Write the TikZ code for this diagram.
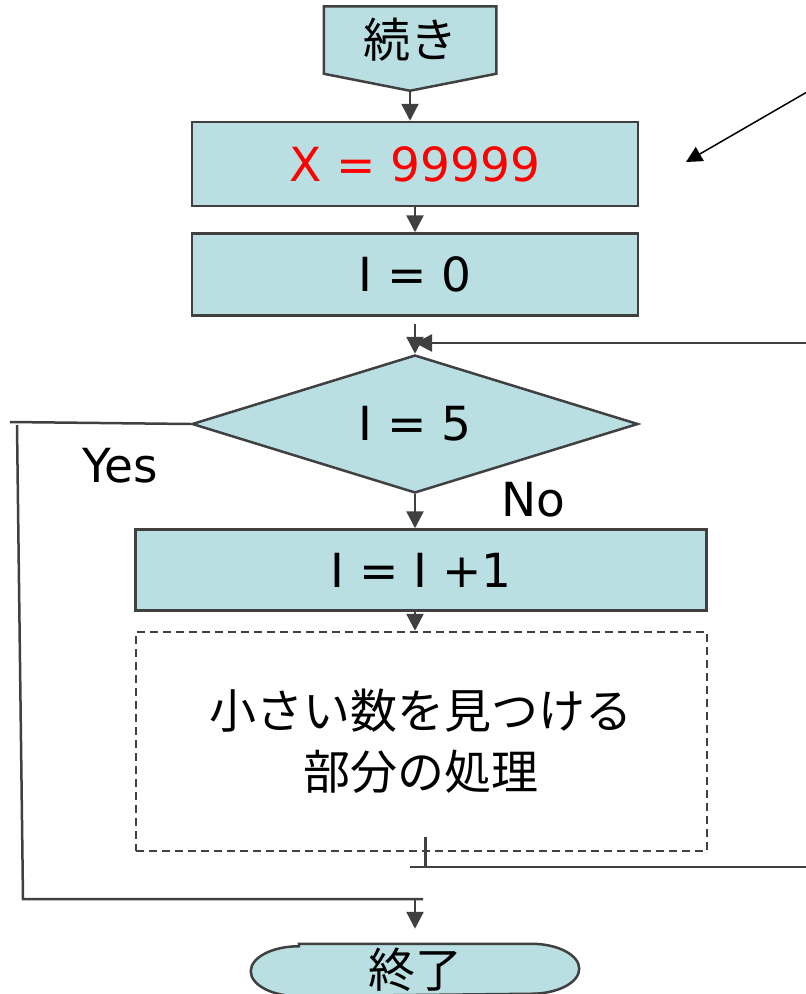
\documentclass[tikz,border=0pt]{standalone}
\usepackage{fontspec}
\setmainfont{DejaVu Sans}
\newfontfamily\jpfont{Noto Sans CJK JP}
\usepackage{tikz}
\usetikzlibrary{arrows.meta,positioning,shapes.geometric,backgrounds}
\definecolor{boxfill}{RGB}{185,223,227}
\definecolor{linegray}{RGB}{64,64,64}

\begin{document}
\begin{tikzpicture}[x=1pt,y=-1pt,>={Triangle[length=17pt,width=17pt]},line width=2.5pt]
  \tikzstyle{every node}=[inner sep=0pt,font=\fontsize{47}{56}\selectfont]
  \tikzstyle{flow}=[draw=linegray,line width=2.5pt]
  \tikzstyle{box}=[flow,fill=boxfill,minimum width=446pt,minimum height=84pt]
  \tikzstyle{jp}=[font=\fontsize{47}{61}\selectfont\jpfont]

  \useasboundingbox (0,0) rectangle (806,994);

  \node[jp,minimum width=170pt,minimum height=65pt] (cont) at (410,40) {\raisebox{-4pt}{続き}};
  \node[box,text=red] (xbox) at (415,164) {X = 99999};
  \node[box,minimum height=82pt] (ibox) [below=25pt of xbox] {I = 0};
  \node[diamond,aspect=3.4,flow,fill=boxfill,minimum width=446pt,minimum height=138pt] (cond) [below=37pt of ibox] {I = 5};
  \node[box,minimum width=571pt,minimum height=81pt] (incbox) [below=34pt of cond,xshift=6pt] {I = I +1};
  \node[jp,flow,line width=2pt,dash pattern=on 8pt off 5pt,minimum width=571pt,minimum height=219pt,align=center] (proc) [below=19pt of incbox] {小さい数を見つける\\部分の処理};
  \node[jp,minimum width=326pt,minimum height=50pt] (end) at (415,970) {終了};

  \node (yes) at (120,466) {Yes};
  \node (no) at (533,500) {No};

  \begin{scope}[on background layer]
    \draw[flow,fill=boxfill] (cont.north west) -- (cont.north east) -- (cont.south east)
      -- ([yshift=-17pt]cont.south) -- (cont.south west) -- cycle;
    \draw[flow,fill=boxfill] ([xshift=48pt]end.north west) -- ([xshift=-48pt]end.north east)
      arc[start angle=90,end angle=-90,x radius=48pt,y radius=25pt]
      -- ([xshift=48pt]end.south west)
      arc[start angle=270,end angle=90,x radius=48pt,y radius=25pt] -- cycle;
  \end{scope}

  % main flow
  \draw[flow,->] ([yshift=-17pt]cont.south) -- (cont.south |- xbox.north);
  \draw[flow,->] (xbox) -- (ibox);
  \draw[flow,->,shorten <=7pt] (ibox) -- (cond);
  \draw[flow,->] (cond.south) -- (cond.south |- incbox.north);
  \draw[flow,->] (incbox.south -| cond.south) -- (cond.south |- proc.north);

  % loop back
  \coordinate (backA) at (410,867);
  \coordinate (backB) at (806,867);
  \coordinate (backC) at (806,343);
  \draw[flow] ([xshift=4.5pt,yshift=15pt]proc.south) -- ([xshift=4.5pt,yshift=-16pt]proc.south);
  \draw[flow] (backA) -- (backB);
  \draw[flow,->] (backC) -- (backC -| cond.north);

  % yes branch
  \coordinate (yesA) at (10,422);
  \coordinate (yesB) at (17,425);
  \coordinate (yesC) at (23,899);
  \coordinate (yesD) at (423,899);
  \draw[flow] (cond.west) -- (yesA);
  \draw[flow] (yesB) -- (yesC) -- (yesD);
  \draw[flow,->,shorten >=15pt] (yesD -| end.north) -- (end.north);

  % note arrow
  \coordinate (noteA) at (807,92);
  \coordinate (noteB) at (686,162);
  \draw[->,black,line width=1.5pt,>={Triangle[length=16pt,width=16pt]}] (noteA) -- (noteB);
\end{tikzpicture}
\end{document}
